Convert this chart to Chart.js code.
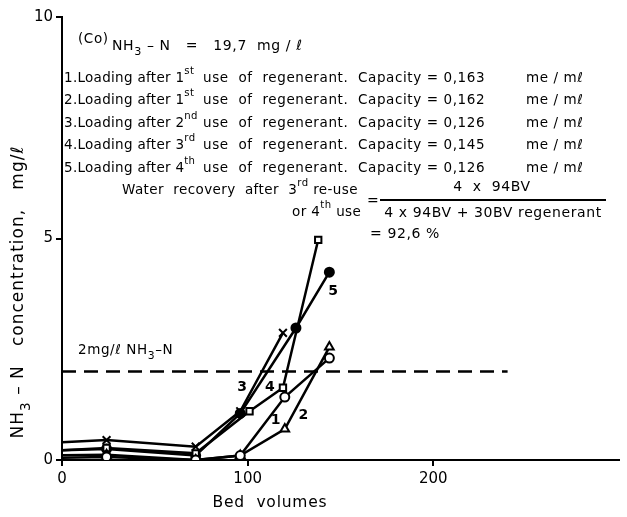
<!DOCTYPE html>
<html lang="en">
<head>
    <meta charset="UTF-8" />
    <title>NH3-N breakthrough</title>
    <style>
        body { margin: 0; background: #fff; }
        #wrap { width: 627px; height: 517px; }
    </style>
</head>
<body>
    <div id="wrap"><canvas id="chart" width="627" height="517"></canvas></div>

    <script src="https://cdn.jsdelivr.net/npm/chart.js"></script>
    <script>
        // Axis ticks
        const xTicks = [0, 100, 200];
        const yTicks = [0, 5, 10];

        // Curve 1 (open circles)
        const bv1 = [0, 24, 72, 96, 120, 144];
        const c1 = [0.05, 0.07, 0, 0.1, 1.42, 2.3];
        // Curve 2 (triangles)
        const bv2 = [0, 24, 72, 96, 120, 144];
        const c2 = [0.11, 0.12, 0, 0.1, 0.7, 2.55];
        // Curve 3 (crosses)
        const bv3 = [0, 24, 72, 96, 119];
        const c3 = [0.4, 0.45, 0.3, 1.1, 2.87];
        // Curve 4 (squares)
        const bv4 = [0, 24, 72, 101, 119, 138];
        const c4 = [0.22, 0.27, 0.15, 1.1, 1.63, 4.97];
        // Curve 5 (filled circles)
        const bv5 = [0, 24, 72, 96, 126, 144];
        const c5 = [0.22, 0.25, 0.1, 1.05, 2.98, 4.24];

        // 2 mg/l limit line
        const limitBV = [0, 240];
        const limitValue = 2;

        // curve number labels: [text, bv, conc]
        const curveLabels = [
            ['1', 115, 0.9],
            ['2', 130, 1.0],
            ['3', 97, 1.65],
            ['4', 112, 1.65],
            ['5', 146, 3.8]
        ];

        const toPoints = (xs, ys) => xs.map((x, i) => ({ x: x, y: ys[i] }));
        const hideFirst = r => ctx => (ctx.raw && ctx.raw.x === 0 ? 0 : r);

        function series(xs, ys, style, fill, r) {
            return {
                data: toPoints(xs, ys),
                showLine: true,
                borderColor: '#000',
                borderWidth: 2.5,
                pointStyle: style,
                pointBackgroundColor: fill,
                pointBorderColor: '#000',
                pointBorderWidth: 2,
                pointRadius: hideFirst(r)
            };
        }

        const F = '"DejaVu Sans", sans-serif';

        // draw a line of text made of pieces, some raised or lowered
        function drawPieces(ctx, x, y, pieces, size) {
            pieces.forEach(p => {
                let s = size, dy = 0;
                if (p.sup) { s = size * 0.75; dy = -size * 0.5; }
                if (p.sub) { s = size * 0.8; dy = size * 0.45; }
                ctx.font = s + 'px ' + F;
                ctx.fillText(p.t, x, y + dy);
                x += ctx.measureText(p.t).width;
            });
            return x;
        }

        function piecesWidth(ctx, pieces, size) {
            let w = 0;
            pieces.forEach(p => {
                let s = size;
                if (p.sup) s = size * 0.75;
                if (p.sub) s = size * 0.8;
                ctx.font = s + 'px ' + F;
                w += ctx.measureText(p.t).width;
            });
            return w;
        }

        const notes = {
            id: 'notes',
            afterDraw(chart) {
                const ctx = chart.ctx;
                const xs = chart.scales.x, ys = chart.scales.y;
                ctx.save();
                ctx.fillStyle = '#000';
                ctx.textBaseline = 'middle';
                ctx.textAlign = 'left';
                ctx.letterSpacing = '0.6px';

                // header
                ctx.font = '13.5px ' + F;
                ctx.fillText('(Co)', 78, 39);
                drawPieces(ctx, 112, 46, [
                    { t: 'NH' }, { t: '3', sub: true },
                    { t: ' \u2013 N   =   19,7  mg / \u2113' }
                ], 14);

                const rows = [
                    ['1.Loading after 1', 'st', '0,163'],
                    ['2.Loading after 1', 'st', '0,162'],
                    ['3.Loading after 2', 'nd', '0,126'],
                    ['4.Loading after 3', 'rd', '0,145'],
                    ['5.Loading after 4', 'th', '0,126']
                ];
                rows.forEach((r, i) => {
                    const y = 78 + i * 22.5;
                    ctx.letterSpacing = '0.3px';
                    drawPieces(ctx, 64, y, [{ t: r[0] }, { t: r[1], sup: true }], 13.5);
                    ctx.letterSpacing = '0.6px';
                    ctx.font = '13.5px ' + F;
                    ctx.fillText('use  of  regenerant.', 203, y);
                    ctx.fillText('Capacity = ' + r[2], 358, y);
                    ctx.fillText('me / m\u2113', 526, y);
                });

                ctx.letterSpacing = '0.4px';
                drawPieces(ctx, 122, 190, [
                    { t: 'Water  recovery  after  3' }, { t: 'rd', sup: true }, { t: ' re-use' }
                ], 13.5);
                drawPieces(ctx, 292, 212, [
                    { t: 'or 4' }, { t: 'th', sup: true }, { t: ' use' }
                ], 13.5);
                ctx.letterSpacing = '0.6px';
                ctx.font = '14px ' + F;
                ctx.fillText('=', 367, 201);
                ctx.textAlign = 'center';
                ctx.fillText('4  x  94BV', 492, 187);
                ctx.fillText('4 x 94BV + 30BV regenerant', 493, 213);
                ctx.fillRect(380, 199, 226, 2);
                ctx.textAlign = 'left';
                ctx.fillText('= 92,6 %', 370, 234);

                // limit line label
                drawPieces(ctx, 78, 350, [
                    { t: '2mg/\u2113 NH' }, { t: '3', sub: true }, { t: '\u2013N' }
                ], 13.5);

                // curve numbers
                ctx.letterSpacing = '0px';
                ctx.font = 'bold 14px ' + F;
                ctx.textAlign = 'center';
                curveLabels.forEach(l => {
                    ctx.fillText(l[0], xs.getPixelForValue(l[1]), ys.getPixelForValue(l[2]));
                });

                // axis titles
                ctx.letterSpacing = '0.8px';
                ctx.font = '15.5px ' + F;
                ctx.fillText('Bed  volumes', 270, 503);

                ctx.textAlign = 'left';
                ctx.letterSpacing = '1px';
                const yTitle = [
                    { t: 'NH' }, { t: '3', sub: true }, { t: ' \u2013 N   concentration,   mg/\u2113' }
                ];
                const w = piecesWidth(ctx, yTitle, 17);
                ctx.translate(19, 292);
                ctx.rotate(-Math.PI / 2);
                drawPieces(ctx, -w / 2, 0, yTitle, 17);
                ctx.restore();
            }
        };

        new Chart(document.getElementById('chart'), {
            type: 'scatter',
            data: {
                datasets: [
                    series(bv1, c1, 'circle', '#fff', 4.5),
                    series(bv2, c2, 'triangle', '#fff', 5),
                    series(bv3, c3, 'crossRot', '#fff', 5.5),
                    series(bv4, c4, 'rect', '#fff', 4.5),
                    series(bv5, c5, 'circle', '#000', 4.5),
                    {
                        data: limitBV.map(x => ({ x: x, y: limitValue })),
                        showLine: true,
                        borderColor: '#000',
                        borderWidth: 2.5,
                        borderDash: [14, 8],
                        pointRadius: 0
                    }
                ]
            },
            options: {
                responsive: false,
                animation: false,
                layout: { padding: { left: 0, right: 8, top: 17, bottom: 0 } },
                plugins: { legend: { display: false }, tooltip: { enabled: false } },
                scales: {
                    x: {
                        type: 'linear',
                        min: 0,
                        max: 300,
                        afterBuildTicks: s => { s.ticks = xTicks.map(v => ({ value: v })); },
                        afterFit: s => { s.height = 57; },
                        border: { color: '#000', width: 2 },
                        grid: { drawOnChartArea: false, color: '#000', tickLength: 6, lineWidth: 2 },
                        ticks: { color: '#000', font: { size: 15, family: 'DejaVu Sans' }, padding: 4, maxRotation: 0 }
                    },
                    y: {
                        min: 0,
                        max: 10,
                        afterBuildTicks: s => { s.ticks = yTicks.map(v => ({ value: v })); },
                        afterFit: s => { s.width = 62; },
                        border: { color: '#000', width: 2 },
                        grid: { drawOnChartArea: false, color: '#000', tickLength: 6, lineWidth: 2 },
                        ticks: { color: '#000', font: { size: 15, family: 'DejaVu Sans' }, padding: 3 }
                    }
                }
            },
            plugins: [notes]
        });
    </script>
</body>
</html>
